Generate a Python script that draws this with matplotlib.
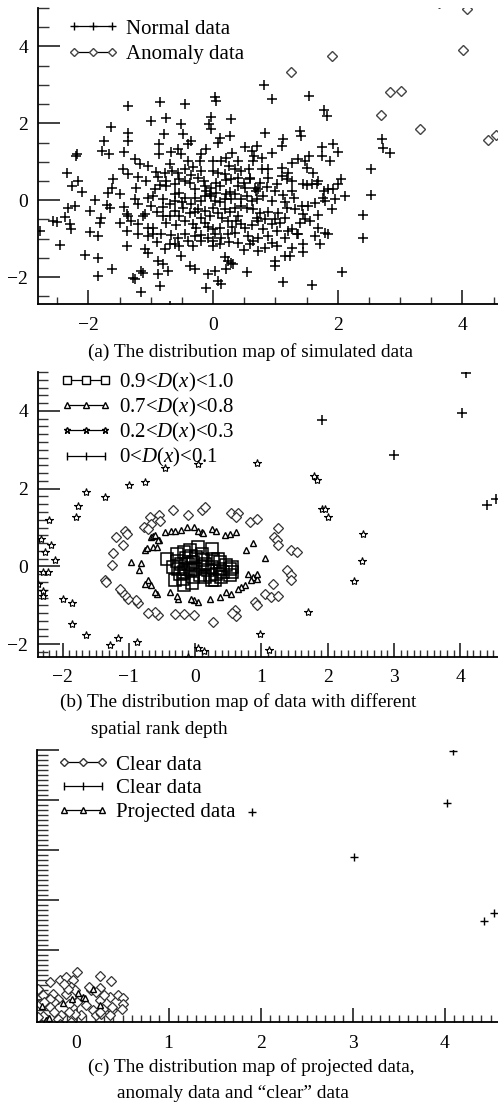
import numpy as np
import matplotlib

matplotlib.use("Agg")
import matplotlib.pyplot as plt
from matplotlib.lines import Line2D
from matplotlib.ticker import MultipleLocator, NullFormatter

plt.rcParams["font.family"] = ["Liberation Serif", "DejaVu Serif"]
plt.rcParams["mathtext.fontset"] = "custom"
plt.rcParams["mathtext.rm"] = "Liberation Serif"
plt.rcParams["mathtext.it"] = "Liberation Serif:italic"

# ---- (a) simulated data -------------------------------------------------
normal_xy = np.array([
    (0.81, 2.99), (0.94, 2.63), (1.54, 2.70), (0.03, 2.68), (0.04, 2.59), (-0.86, 2.55),
    (-1.36, 2.46), (-0.45, 2.49), (1.78, 2.34), (1.82, 2.20), (-0.03, 2.16), (0.29, 2.11),
    (-0.75, 2.14), (-0.99, 2.07), (-0.52, 1.98), (-1.64, 1.90), (-0.07, 1.97), (-0.04, 1.84),
    (0.83, 1.75), (1.39, 1.81), (1.41, 1.68), (-1.36, 1.75), (-1.36, 1.55), (-0.79, 1.73),
    (-0.48, 1.72), (-1.75, 1.53), (0.27, 1.68), (0.11, 1.62), (0.08, 1.49), (1.12, 1.58),
    (1.10, 1.40), (1.93, 1.46), (1.74, 1.38), (2.01, 1.25), (1.75, 1.14), (1.87, 1.03),
    (-0.35, 1.53), (-0.40, 1.45), (-0.87, 1.45), (-1.79, 1.29), (-1.67, 1.19), (-1.43, 1.25),
    (-2.19, 1.19), (-2.20, 1.14), (-0.56, 1.32), (-0.68, 1.25), (-0.51, 1.21), (-0.87, 1.21),
    (-0.11, 1.32), (0.30, 1.23), (0.51, 1.38), (0.62, 1.27), (0.70, 1.40), (0.94, 1.23),
    (0.78, 1.10), (0.64, 1.03), (-1.26, 1.08), (0.21, 1.10), (0.40, 1.01), (-1.18, 0.93),
    (-1.05, 0.88), (-0.40, 1.03), (-0.21, 1.01), (0.00, 1.01), (0.13, 1.03), (0.35, 0.82),
    (0.45, 0.77), (0.58, 0.82), (0.78, 0.82), (0.88, 0.82), (1.54, 1.14), (1.36, 1.08),
    (1.47, 1.01), (1.50, 0.84), (1.26, 0.97), (2.54, 0.82), (-2.35, 0.71), (-1.44, 0.80),
    (-1.37, 0.68), (-0.91, 0.74), (-0.78, 0.71), (-0.88, 0.60), (-0.66, 0.75), (-0.56, 0.71),
    (-0.45, 0.80), (-0.32, 0.86), (-0.19, 0.75), (0.00, 0.77), (0.08, 0.71), (0.19, 0.67),
    (0.29, 0.54), (0.40, 0.58), (0.59, 0.58), (0.67, 0.32), (0.72, 0.28), (0.88, 0.58),
    (1.10, 0.62), (1.20, 0.71), (1.19, 0.54), (1.26, 0.49), (1.58, 0.41), (1.69, 0.49),
    (1.78, 0.23), (1.85, 0.28), (1.93, 0.29), (2.01, 0.41), (2.05, 0.55), (2.11, 0.12),
    (2.53, 0.13), (-2.17, 0.51), (-2.27, 0.38), (-2.11, 0.21), (-1.69, 0.19), (-1.63, 0.32),
    (-1.50, 0.16), (-1.24, 0.32), (-1.26, 0.04), (-1.07, 0.51), (-0.94, 0.30), (-0.75, 0.49),
    (-0.75, 0.36), (-0.62, 0.41), (-0.62, 0.17), (-0.54, 0.19), (-0.45, 0.49), (-0.37, 0.45),
    (-0.29, 0.30), (-0.25, 0.58), (-0.13, 0.36), (-0.11, 0.23), (-0.05, 0.15), (-0.03, 0.32),
    (0.11, 0.38), (0.21, 0.15), (0.27, 0.21), (0.40, 0.36), (0.51, 0.32), (0.59, 0.54),
    (0.68, 0.23), (0.86, 0.34), (1.02, 0.41), (1.12, 0.13), (1.26, 0.23), (1.44, 0.41),
    (1.50, 0.39), (1.67, 0.41), (1.77, 0.06), (1.95, 0.02), (-1.04, 0.06), (-0.96, 0.10),
    (-0.80, 0.02), (-0.62, -0.03), (-0.45, 0.06), (-0.29, 0.06), (-0.19, -0.03), (-0.13, 0.10),
    (-0.03, 0.10), (0.03, -0.01), (0.11, -0.04), (0.19, 0.04), (0.29, 0.02), (0.45, 0.04),
    (0.62, -0.03), (0.70, 0.04), (0.94, -0.01), (1.15, -0.04), (1.42, -0.16), (1.52, -0.16),
    (1.63, -0.07), (1.79, -0.01), (-2.33, -0.20), (-2.22, -0.16), (-1.98, -0.27), (-1.71, -0.13),
    (-1.66, -0.20), (-1.43, -0.18), (-1.39, -0.37), (-1.36, -0.42), (-1.10, -0.36), (-0.99, -0.16),
    (-0.80, -0.18), (-0.70, -0.11), (-0.62, -0.29), (-0.48, -0.20), (-0.37, -0.33), (-0.29, -0.30),
    (-0.24, -0.24), (-0.13, -0.29), (0.00, -0.20), (0.08, -0.33), (0.19, -0.22), (0.27, -0.30),
    (0.35, -0.20), (0.45, -0.16), (0.54, -0.20), (0.64, -0.24), (0.75, -0.33), (0.88, -0.30),
    (1.04, -0.33), (1.18, -0.20), (1.31, -0.24), (1.44, -0.36), (1.69, -0.39), (1.90, -0.22),
    (2.41, -0.39), (-2.57, -0.55), (-2.51, -0.56), (-2.38, -0.44), (-2.30, -0.61), (-2.28, -0.76),
    (-1.82, -0.59), (-1.31, -0.55), (-1.20, -0.63), (-1.12, -0.42), (-1.04, -0.72), (-0.96, -0.72),
    (-0.80, -0.42), (-0.70, -0.42), (-0.59, -0.65), (-0.45, -0.55), (-0.32, -0.63), (-0.27, -0.72),
    (-0.13, -0.59), (-0.08, -0.70), (0.00, -0.76), (0.11, -0.72), (0.24, -0.55), (0.37, -0.53),
    (0.45, -0.61), (0.51, -0.72), (0.62, -0.65), (0.72, -0.55), (0.83, -0.50), (0.94, -0.63),
    (1.07, -0.59), (1.15, -0.46), (1.26, -0.76), (1.34, -0.89), (1.47, -0.50), (1.55, -0.53),
    (1.69, -0.72), (1.79, -0.85), (1.85, -0.89), (-1.98, -0.83), (-1.85, -0.94), (-1.39, -0.81),
    (-1.21, -0.87), (-1.04, -0.94), (-0.96, -0.89), (-0.83, -0.89), (-0.67, -0.91), (-0.56, -0.98),
    (-0.45, -0.87), (-0.29, -0.94), (-0.19, -0.91), (-0.08, -0.98), (0.03, -0.89), (0.13, -0.98),
    (0.24, -0.89), (0.35, -0.85), (0.56, -0.94), (0.64, -1.05), (0.72, -0.98), (0.88, -0.94),
    (1.02, -0.81), (1.15, -0.98), (1.20, -0.79), (1.36, -0.89), (1.63, -0.94), (2.41, -0.98),
    (-2.46, -1.17), (-1.39, -1.18), (-1.10, -1.28), (-1.04, -1.37), (-0.78, -1.28), (-0.70, -1.15),
    (-0.62, -1.13), (-0.54, -1.20), (-0.32, -1.20), (-0.19, -1.05), (0.00, -1.20), (0.11, -1.15),
    (0.40, -1.11), (0.59, -1.15), (0.72, -1.33), (0.83, -1.24), (0.94, -1.11), (1.02, -1.20),
    (1.15, -1.45), (1.26, -1.24), (1.44, -1.15), (1.44, -1.35), (1.71, -1.15), (-2.06, -1.43),
    (-1.85, -1.50), (-0.88, -1.58), (-0.80, -1.67), (-0.72, -1.84), (-0.51, -1.45), (-0.37, -1.71),
    (-0.29, -1.80), (0.19, -1.48), (0.24, -1.58), (0.29, -1.63), (0.32, -1.67), (0.99, -1.58),
    (0.99, -1.71), (1.23, -1.45), (-1.63, -1.78), (-1.15, -1.84), (-1.12, -1.89), (-0.88, -1.91),
    (-0.08, -1.91), (0.03, -1.84), (0.21, -1.80), (0.54, -1.86), (2.07, -1.86), (-1.85, -1.97),
    (-1.28, -2.02), (-1.26, -2.04), (-0.86, -2.22), (-0.11, -2.29), (0.08, -2.10), (0.13, -2.17),
    (1.12, -2.12), (1.58, -2.21), (-1.16, -2.38), (2.71, 1.58), (2.73, 1.35), (2.84, 1.22),
    (-2.78, -0.80), (-0.69, -2.75),
    (-0.55, 0.55), (-0.35, 0.65), (-0.15, 0.50), (0.05, 0.45), (0.20, 0.52), (0.50, 0.45),
    (0.75, 0.45), (1.00, 0.25), (-0.85, 0.40), (-1.20, 0.60), (-0.50, -0.05), (-0.35, -0.10),
    (0.05, 0.20), (0.35, 0.15), (0.55, 0.12), (0.80, 0.10), (1.30, 0.05), (-1.20, -0.10),
    (-0.90, -0.30), (-0.55, -0.40), (-0.20, -0.45), (0.15, -0.45), (0.40, -0.40), (0.70, -0.45),
    (1.00, -0.50), (1.40, -0.60), (-1.50, -0.60), (-0.75, -0.60), (-0.05, -0.40), (0.30, -0.70),
    (0.80, -0.75), (-0.40, -1.05), (0.00, -1.05), (0.25, -1.10), (0.50, -1.30), (-0.90, -1.10),
    (1.10, 0.85), (0.65, 1.15), (-0.20, 1.20), (-0.70, 0.95), (0.25, 0.90), (1.60, 0.70),
    (-1.60, 0.55), (-1.90, 0.00), (-1.80, -0.45),
])
anomaly_xy = np.array([
    (1.91, 3.74), (1.25, 3.33), (2.84, 2.81), (3.01, 2.83), (2.70, 2.21), (3.32, 1.85),
    (4.01, 3.90), (4.07, 4.98), (4.41, 1.56), (4.53, 1.69), (3.63, 5.12),
])

# ---- (b) spatial rank depth ---------------------------------------------
depth_09_xy = np.array([
    (-0.42, 0.20), (-0.28, 0.32), (-0.27, 0.15), (-0.26, -0.06), (-0.31, -0.34), (-0.16, 0.37),
    (-0.13, 0.22), (-0.11, 0.07), (-0.16, -0.15), (-0.18, -0.32), (-0.16, -0.49), (-0.06, 0.28),
    (-0.03, 0.11), (0.00, -0.06), (-0.03, -0.27), (0.04, 0.51), (0.10, 0.32), (0.12, 0.17),
    (0.10, -0.02), (0.07, -0.23), (0.15, -0.27), (0.25, 0.45), (0.27, 0.20), (0.25, -0.02),
    (0.22, -0.23), (0.25, -0.36), (0.35, 0.20), (0.37, -0.06), (0.39, -0.27), (0.47, 0.03),
    (0.52, -0.06), (0.55, -0.15), (0.52, -0.23), (0.42, -0.15), (-0.08, 0.41), (-0.21, 0.05),
    (-0.33, -0.02), (-0.23, -0.19), (-0.05, -0.43), (0.15, 0.07), (0.20, -0.10), (0.32, -0.19),
    (-0.13, -0.06), (0.02, 0.24), (-0.06, -0.10), (0.30, -0.36), (0.37, 0.11), (0.55, -0.02),
])
depth_07_xy = np.array([
    (-0.66, 0.75), (-0.63, 0.79), (-0.61, 0.82), (-0.55, 0.67), (-0.46, 0.88), (-0.36, 0.92),
    (-0.31, 0.91), (-0.21, 0.94), (-0.12, 1.01), (-0.01, 1.01), (0.05, 0.92), (0.10, 0.88),
    (0.12, 0.85), (0.25, 0.97), (0.32, 0.92), (0.45, 0.82), (0.52, 0.84), (0.61, 0.88),
    (0.88, 0.60), (0.77, 0.41), (1.05, 0.22), (0.80, -0.19), (0.88, -0.27), (0.93, -0.32),
    (0.94, -0.19), (0.85, -0.36), (0.75, -0.49), (0.70, -0.53), (0.65, -0.57), (0.54, -0.70),
    (0.47, -0.66), (0.37, -0.79), (0.22, -0.83), (0.05, -0.91), (-0.01, -0.87), (-0.06, -0.83),
    (-0.26, -0.83), (-0.28, -0.77), (-0.38, -0.66), (-0.58, -0.70), (-0.61, -0.66), (-0.66, -0.49),
    (-0.71, -0.36), (-0.76, -0.44), (-0.84, -0.10), (-0.81, 0.09), (-0.96, 0.11), (-0.76, 0.41),
    (-0.73, 0.48), (-0.63, 0.50), (-0.58, 0.51), (-0.56, 0.67),
])
depth_mid_xy = np.array([
    (-0.68, 1.26), (-0.55, 1.32), (-0.53, 1.16), (-0.66, 1.09), (-0.77, 1.01), (-0.71, 0.97),
    (-0.34, 1.44), (-0.10, 1.33), (0.10, 1.44), (0.15, 1.52), (0.54, 1.38), (0.64, 1.38),
    (0.61, 1.26), (0.83, 1.14), (0.93, 1.21), (1.25, 0.99), (1.19, 0.75), (1.23, 0.67),
    (1.25, 0.54), (1.45, 0.41), (1.53, 0.38), (1.38, -0.09), (1.44, -0.23), (1.45, -0.36),
    (1.18, -0.46), (1.05, -0.72), (1.15, -0.79), (1.25, -0.77), (0.90, -0.91), (0.93, -1.00),
    (0.60, -1.13), (0.62, -1.28), (0.56, -1.20), (0.27, -1.43), (-0.01, -1.24), (-0.17, -1.23),
    (-0.31, -1.23), (-0.56, -1.26), (-0.61, -1.17), (-0.71, -1.20), (-0.86, -0.94), (-0.89, -0.87),
    (-1.01, -0.83), (-1.05, -0.74), (-1.11, -0.66), (-1.14, -0.57), (-1.36, -0.36), (-1.34, -0.40),
    (-1.26, 0.04), (-1.24, 0.34), (-1.09, 0.54), (-1.19, 0.75), (-1.06, 0.92), (-1.02, 0.84),
])
depth_02_xy = np.array([
    (-0.45, 2.54), (0.05, 2.63), (0.93, 2.66), (1.79, 2.33), (1.84, 2.22), (-1.64, 1.91),
    (-1.36, 1.78), (-1.00, 2.10), (-0.75, 2.16), (-1.76, 1.55), (-1.79, 1.28), (-2.21, 1.20),
    (-2.33, 0.71), (-2.17, 0.54), (-2.27, 0.38), (-2.12, 0.17), (-2.29, -0.15), (-2.22, -0.15),
    (-2.37, -0.44), (-2.29, -0.62), (-2.29, -0.77), (-1.99, -0.83), (-1.86, -0.95), (-1.86, -1.48),
    (-1.64, -1.77), (-1.28, -2.03), (-1.16, -1.85), (-0.87, -1.94), (-0.10, -2.32), (0.05, -2.10),
    (0.14, -2.18), (0.98, -1.75), (1.11, -2.15), (1.70, -1.18), (2.39, -0.37), (2.52, 0.13),
    (2.54, 0.84), (1.92, 1.48), (1.96, 1.48), (2.00, 1.26),
])
depth_00_xy = np.array([
    (4.09, 4.98), (4.03, 3.95), (1.92, 3.77), (3.00, 2.87), (4.41, 1.59), (4.54, 1.74),
])

# ---- (c) projected data -------------------------------------------------
clear_xy = np.array([
    (0.01, 0.57), (0.25, 0.49), (0.37, 0.39), (-0.29, 0.36), (-0.18, 0.40), (-0.12, 0.47),
    (-0.04, 0.40), (-0.06, 0.27), (0.16, 0.20), (0.25, 0.25), (-0.42, 0.22), (-0.37, 0.10),
    (-0.26, 0.13), (-0.20, 0.03), (-0.24, -0.03), (-0.29, 0.03), (-0.11, 0.13), (-0.02, 0.20),
    (0.03, 0.03), (-0.08, -0.07), (0.01, -0.03), (0.25, 0.00), (0.36, 0.07), (0.45, 0.10),
    (0.50, 0.05), (0.51, -0.07), (0.49, -0.17), (0.39, -0.20), (0.29, -0.17), (0.18, -0.20),
    (0.21, -0.30), (0.27, -0.27), (0.36, -0.30), (0.05, -0.30), (-0.02, -0.27), (-0.08, -0.23),
    (-0.17, -0.30), (-0.20, -0.37), (-0.18, -0.47), (-0.06, -0.43), (-0.29, -0.13), (-0.24, -0.23),
    (-0.37, -0.32), (-0.42, -0.33), (-0.40, -0.07), (-0.35, -0.03), (0.14, 0.27), (0.21, 0.17),
    (-0.09, 0.23), (0.39, -0.13), (0.25, -0.23), (-0.14, 0.33), (0.30, 0.10), (0.10, -0.10),
])
clear_anom_xy = np.array([
    (4.09, 4.98), (4.03, 3.95), (1.91, 3.77), (3.02, 2.87), (4.43, 1.59), (4.54, 1.74),
])
projected_xy = np.array([
    (0.07, 0.07), (0.09, 0.05), (-0.05, 0.02), (0.18, 0.22), (-0.33, -0.40), (-0.30, -0.36),
    (-0.15, -0.05), (0.02, 0.15), (0.25, -0.10), (-0.38, -0.12),
])

W, H = 498, 1113
fig = plt.figure(figsize=(W / 100, H / 100), dpi=100)


def frac(left, top, right, bottom):
    return [left / W, 1 - bottom / H, (right - left) / W, (bottom - top) / H]


def style_axes(ax, maj_len_y, min_len_y, maj_len_x, min_len_x):
    for s in ("top", "right"):
        ax.spines[s].set_visible(False)
    for s in ("left", "bottom"):
        ax.spines[s].set_linewidth(1.3)
    ax.tick_params(axis="y", which="major", direction="in", length=maj_len_y,
                   width=1.3, labelsize=14, pad=7, color="#333333")
    ax.tick_params(axis="y", which="minor", direction="in", length=min_len_y,
                   width=1.0, color="#333333")
    ax.tick_params(axis="x", which="major", direction="in", length=maj_len_x,
                   width=1.3, labelsize=14, pad=9, color="#333333")
    ax.tick_params(axis="x", which="minor", direction="in", length=min_len_x,
                   width=1.0, color="#333333")


def legend(ax, handles, labels, x, y, spacing, fs=15):
    ax.legend(handles, labels, loc="upper left", bbox_to_anchor=(x / W, 1 - y / H),
              bbox_transform=fig.transFigure, frameon=False, fontsize=fs,
              numpoints=3, handlelength=2.4, handletextpad=0.4, labelspacing=spacing,
              borderpad=0, borderaxespad=0)


# (a)
ax1 = fig.add_axes(frac(38, 8, 498, 304))
ax1.plot(normal_xy[:, 0], normal_xy[:, 1], ls="none", marker="+", ms=6.5, mew=1.1, color="k")
ax1.plot(anomaly_xy[:, 0], anomaly_xy[:, 1], ls="none", marker="D", ms=5.5, mew=1.0,
         mfc="white", mec="#444444")
ax1.set_xlim(-2.81, 4.57)
ax1.set_ylim(-2.7, 5.0)
ax1.xaxis.set_major_locator(MultipleLocator(2))
ax1.xaxis.set_minor_locator(MultipleLocator(0.5))
ax1.yaxis.set_major_locator(MultipleLocator(2))
ax1.yaxis.set_minor_locator(MultipleLocator(0.5))
style_axes(ax1, 16, 8, 10, 5)
legend(ax1,
       [Line2D([], [], color="k", lw=0.9, marker="+", ms=6, mew=1.0),
        Line2D([], [], color="k", lw=0.9, marker="D", ms=4, mfc="white", mec="#444444")],
       ["Normal data", "Anomaly data"], 68, 19, 0.3)

# (b)
ax2 = fig.add_axes(frac(38, 372, 498, 657))
ax2.plot(depth_mid_xy[:, 0], depth_mid_xy[:, 1], ls="none", marker="D", ms=5.5, mew=0.9,
         mfc="white", mec="#333333")
ax2.plot(depth_07_xy[:, 0], depth_07_xy[:, 1], ls="none", marker="^", ms=5, mew=1.0,
         mfc="white", mec="k")
ax2.plot(depth_09_xy[:, 0], depth_09_xy[:, 1], ls="none", marker="s", ms=8.5, mew=1.1,
         mfc="none", mec="k")
ax2.plot(depth_02_xy[:, 0], depth_02_xy[:, 1], ls="none", marker="*", ms=6, mew=0.8,
         mfc="white", mec="k")
ax2.plot(depth_00_xy[:, 0], depth_00_xy[:, 1], ls="none", marker="+", ms=7, mew=1.1, color="k")
ax2.set_xlim(-2.37, 4.57)
ax2.set_ylim(-2.33, 5.0)
ax2.xaxis.set_major_locator(MultipleLocator(1))
ax2.xaxis.set_minor_locator(MultipleLocator(0.1))
ax2.yaxis.set_major_locator(MultipleLocator(2))
ax2.yaxis.set_minor_locator(MultipleLocator(0.2))
style_axes(ax2, 16, 7, 10, 5)
legend(ax2,
       [Line2D([], [], color="k", lw=0.9, marker="s", ms=6, mfc="white", mec="k"),
        Line2D([], [], color="k", lw=0.9, marker="^", ms=4, mfc="white", mec="k"),
        Line2D([], [], color="k", lw=0.9, marker="*", ms=5, mfc="white", mec="k"),
        Line2D([], [], color="k", lw=0.9, marker="|", ms=6)],
       ["0.9<$D$($x$)<1.0", "0.7<$D$($x$)<0.8", "0.2<$D$($x$)<0.3", "0<$D$($x$)<0.1"],
       61, 371, 0.1)

# (c)
ax3 = fig.add_axes(frac(37, 750, 498, 1022))
ax3.plot(clear_xy[:, 0], clear_xy[:, 1], ls="none", marker="D", ms=5, mew=0.9,
         mfc="white", mec="#333333")
ax3.plot(projected_xy[:, 0], projected_xy[:, 1], ls="none", marker="^", ms=4, mew=1.0,
         mfc="white", mec="k")
ax3.plot(clear_anom_xy[:, 0], clear_anom_xy[:, 1], ls="none", marker="+", ms=6, mew=1.0,
         color="k")
ax3.set_xlim(-0.43, 4.58)
ax3.set_ylim(-0.44, 5.0)
ax3.xaxis.set_major_locator(MultipleLocator(1))
ax3.xaxis.set_minor_locator(MultipleLocator(0.1))
ax3.yaxis.set_major_locator(MultipleLocator(1))
ax3.yaxis.set_minor_locator(MultipleLocator(0.1))
ax3.yaxis.set_major_formatter(NullFormatter())
style_axes(ax3, 16, 8, 10, 5)
legend(ax3,
       [Line2D([], [], color="k", lw=0.9, marker="D", ms=4, mfc="white", mec="#333333"),
        Line2D([], [], color="k", lw=0.9, marker="|", ms=6),
        Line2D([], [], color="k", lw=0.9, marker="^", ms=4, mfc="white", mec="k")],
       ["Clear data", "Clear data", "Projected data"], 58, 755, 0.2)

# captions
cap = dict(fontsize=13.9, va="center")
fig.text(250 / W, 1 - 352 / H, "(a) The distribution map of simulated data", ha="center", **cap)
fig.text(60 / W, 1 - 702 / H, "(b) The distribution map of data with different", ha="left", **cap)
fig.text(91 / W, 1 - 730 / H, "spatial rank depth", ha="left", **cap)
fig.text(88 / W, 1 - 1067 / H, "(c) The distribution map of projected data,", ha="left", **cap)
fig.text(117 / W, 1 - 1093 / H, "anomaly data and \u201cclear\u201d data", ha="left", **cap)

fig.savefig("out.png", dpi=100)
